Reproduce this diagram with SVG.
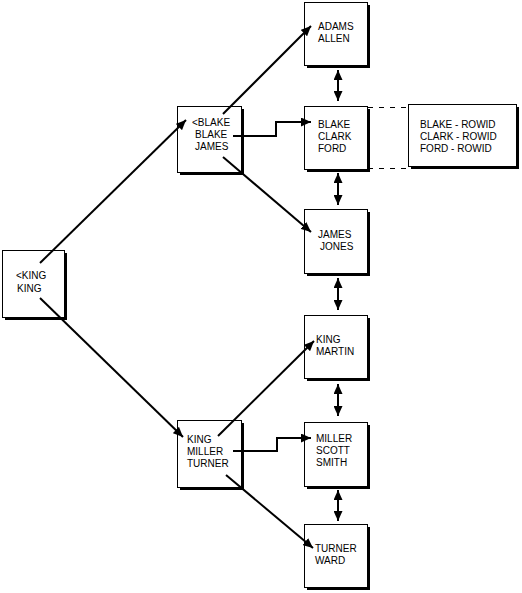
<svg xmlns="http://www.w3.org/2000/svg" width="522" height="593" viewBox="0 0 522 593">
<style>
.sh{fill:#000}
.bx{fill:#fff;stroke:#000;stroke-width:1}
text{font-family:"Liberation Sans",Arial,sans-serif;font-size:10px;fill:#000}
.c{fill:none;stroke:#000;stroke-width:2}
.d{fill:none;stroke:#000;stroke-width:1;stroke-dasharray:5,6}
</style>
<defs>
<marker id="ah" markerUnits="userSpaceOnUse" markerWidth="11" markerHeight="9" refX="10" refY="4.5" orient="auto-start-reverse">
<path d="M0,0 L10,4.5 L0,9 z" fill="#000"/>
</marker>
</defs>
<rect width="522" height="593" fill="#fff"/>
<g id="root">
<rect class="sh" x="5" y="253" width="62" height="67"/>
<rect class="bx" x="2.5" y="250.5" width="62" height="67"/>
<text x="16" y="279">&lt;KING</text>
<text x="17" y="292">KING</text>
</g>
<g id="n-blake-james">
<rect class="sh" x="180" y="109" width="64" height="66"/>
<rect class="bx" x="177.5" y="106.5" width="64" height="66"/>
<text x="192" y="126">&lt;BLAKE</text>
<text x="195" y="138">BLAKE</text>
<text x="195" y="150">JAMES</text>
</g>
<g id="n-king-miller-turner">
<rect class="sh" x="180" y="423" width="64" height="67"/>
<rect class="bx" x="177.5" y="420.5" width="64" height="67"/>
<text x="187" y="443">KING</text>
<text x="187" y="455">MILLER</text>
<text x="187" y="467">TURNER</text>
</g>
<g id="n-adams-allen">
<rect class="sh" x="307" y="5" width="63" height="63"/>
<rect class="bx" x="304.5" y="2.5" width="63" height="63"/>
<text x="318" y="30">ADAMS</text>
<text x="318" y="42">ALLEN</text>
</g>
<g id="n-blake-clark-ford">
<rect class="sh" x="307" y="109" width="63" height="63"/>
<rect class="bx" x="304.5" y="106.5" width="63" height="63"/>
<text x="318" y="128">BLAKE</text>
<text x="318" y="140">CLARK</text>
<text x="318" y="152">FORD</text>
</g>
<g id="n-rowid">
<rect class="sh" x="411" y="107" width="108" height="62"/>
<rect class="bx" x="408.5" y="104.5" width="108" height="62"/>
<text x="420" y="128">BLAKE - ROWID</text>
<text x="420" y="140">CLARK - ROWID</text>
<text x="420" y="152">FORD - ROWID</text>
</g>
<g id="n-james-jones">
<rect class="sh" x="307" y="212" width="63" height="64"/>
<rect class="bx" x="304.5" y="209.5" width="63" height="64"/>
<text x="318" y="238">JAMES</text>
<text x="320" y="250">JONES</text>
</g>
<g id="n-king-martin">
<rect class="sh" x="307" y="318" width="63" height="63"/>
<rect class="bx" x="304.5" y="315.5" width="63" height="63"/>
<text x="316" y="343">KING</text>
<text x="316" y="355">MARTIN</text>
</g>
<g id="n-miller-scott-smith">
<rect class="sh" x="307" y="425" width="63" height="64"/>
<rect class="bx" x="304.5" y="422.5" width="63" height="64"/>
<text x="316" y="442">MILLER</text>
<text x="316" y="454">SCOTT</text>
<text x="316" y="466">SMITH</text>
</g>
<g id="n-turner-ward">
<rect class="sh" x="307" y="527" width="63" height="63"/>
<rect class="bx" x="304.5" y="524.5" width="63" height="63"/>
<text x="315" y="552">TURNER</text>
<text x="315" y="564">WARD</text>
</g>
<g id="connectors">
<path class="c" d="M40,263 L186,120" marker-end="url(#ah)"/>
<path class="c" d="M40,298 L183,437" marker-end="url(#ah)"/>
<path class="c" d="M223,114 L311,26" marker-end="url(#ah)"/>
<path class="c" d="M233,136 H276 V122 H311" marker-end="url(#ah)"/>
<path class="c" d="M223,157 L311,232" marker-end="url(#ah)"/>
<path class="c" d="M218,436 L314,341" marker-end="url(#ah)"/>
<path class="c" d="M233,451 H277 V438 H311" marker-end="url(#ah)"/>
<path class="c" d="M226,475 L313,548" marker-end="url(#ah)"/>
<path class="c" d="M338,70 V101" marker-start="url(#ah)" marker-end="url(#ah)"/>
<path class="c" d="M338,173 V205" marker-start="url(#ah)" marker-end="url(#ah)"/>
<path class="c" d="M338,278 V310" marker-start="url(#ah)" marker-end="url(#ah)"/>
<path class="c" d="M338,384 V416" marker-start="url(#ah)" marker-end="url(#ah)"/>
<path class="c" d="M338,490 V521" marker-start="url(#ah)" marker-end="url(#ah)"/>
<path class="d" d="M368,107.5 H408 M368,168.5 H408"/>
</g>
</svg>
